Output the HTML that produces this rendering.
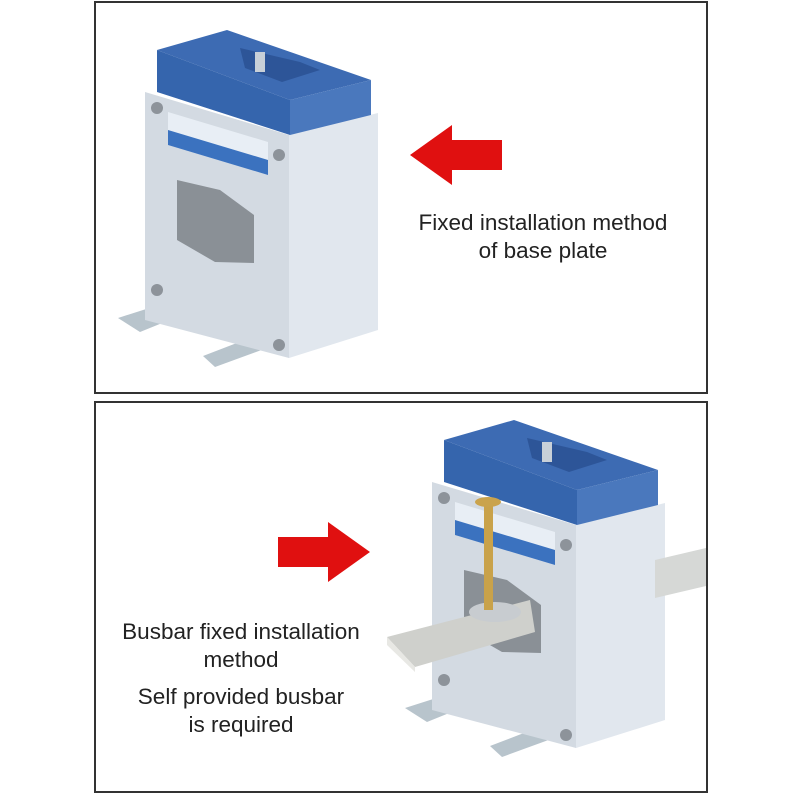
<!DOCTYPE html>
<html><head><meta charset="utf-8"><style>
body{margin:0;background:#fff;width:800px;height:800px;overflow:hidden;position:relative;font-family:"Liberation Sans",sans-serif}
.box{position:absolute;left:94px;width:610px;border:2px solid #333;background:#fff}
.t{position:absolute;font-size:22.5px;color:#222;text-align:center;line-height:28px}
svg{position:absolute;left:0;top:0}
</style></head><body>
<div class="box" style="top:1px;height:389px"></div>
<div class="box" style="top:401px;height:388px"></div>
<svg width="800" height="800">
<defs>
<g id="dev">
 <polygon points="118,318 165,303 182,315 140,332" fill="#b8c4cc"/>
 <polygon points="203,356 255,336 267,348 215,367" fill="#b8c4cc"/>
 <polygon points="145,92 289,135 289,358 145,320" fill="#d3dae2"/>
 <polygon points="289,135 378,113 378,330 289,358" fill="#e1e7ee"/>
 <polygon points="157,50 227,30 371,80 290,100" fill="#3d6bb3"/>
 <polygon points="157,50 290,100 290,135 157,92" fill="#3565ad"/>
 <polygon points="290,100 371,80 371,115 290,135" fill="#4a78bd"/>
 <polygon points="240,48 300,62 320,70 282,82 245,68" fill="#2d5598"/>
 <rect x="255" y="52" width="10" height="20" fill="#c8d0d8"/>
 <polygon points="168,112 268,142 268,175 168,145" fill="#e8eef5"/>
 <polygon points="168,130 268,160 268,175 168,145" fill="#3b72bf"/>
 <circle cx="157" cy="108" r="6" fill="#8d939a"/>
 <circle cx="279" cy="155" r="6" fill="#8d939a"/>
 <circle cx="157" cy="290" r="6" fill="#8d939a"/>
 <circle cx="279" cy="345" r="6" fill="#8d939a"/>
 <polygon points="177,180 220,190 254,215 254,263 215,262 177,240" fill="#8a9096"/>
</g>
</defs>
<use href="#dev"/>
<use href="#dev" transform="translate(287,390)"/>
<polygon points="655,560 706,548 706,586 655,598" fill="#d6d8d6"/>
<polygon points="387,637 530,600 535,632 415,667" fill="#cfd0cc"/>
<polygon points="387,637 415,667 415,672 387,645" fill="#e8e8e4"/>
<ellipse cx="495" cy="612" rx="26" ry="10" fill="#c8ccd0"/>
<rect x="484" y="505" width="9" height="105" fill="#c9a24a"/>
<ellipse cx="488" cy="502" rx="13" ry="5" fill="#caa34c"/>
<polygon points="410,155 452,125 452,140 502,140 502,170 452,170 452,185" fill="#e01010"/>
<polygon points="370,552 328,522 328,537 278,537 278,567 328,567 328,582" fill="#e01010"/>
</svg>
<div class="t" style="left:380px;top:209px;width:326px">Fixed installation method<br>of base plate</div>
<div class="t" style="left:96px;top:618px;width:290px">Busbar fixed installation<br>method</div>
<div class="t" style="left:96px;top:683px;width:290px">Self provided busbar<br>is required</div>
</body></html>
